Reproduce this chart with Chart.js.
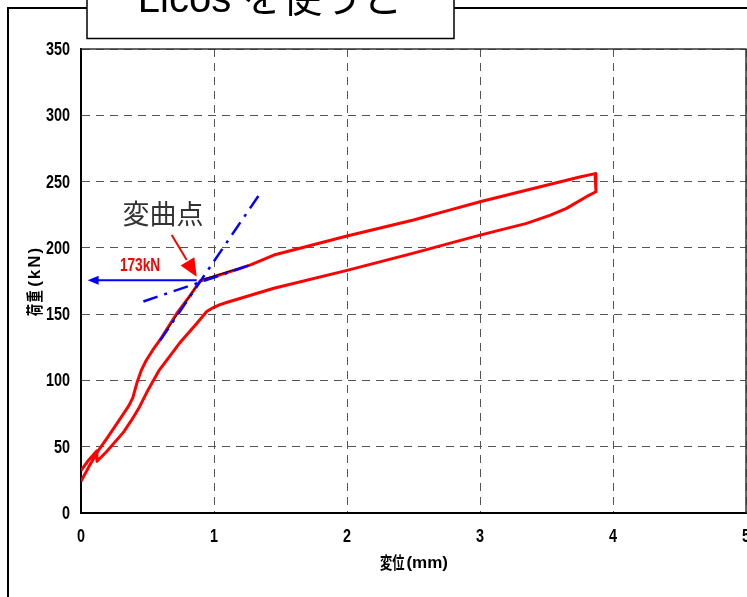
<!DOCTYPE html>
<html>
<head>
<meta charset="utf-8">
<script src="https://cdn.jsdelivr.net/npm/chart.js@4.4.0/dist/chart.umd.min.js"></script>
<style>
  html, body { margin: 0; padding: 0; background: #fff; overflow: hidden; }
  #wrap { position: relative; width: 770px; height: 597px; }
</style>
</head>
<body>
<div id="wrap"><canvas id="chart" width="770" height="597"></canvas></div>
<script>
// load - displacement loop (mm, kN)
const loopX = [0, 0.06, 0.13, 0.2, 0.3, 0.36, 0.39, 0.42, 0.455, 0.49, 0.54, 0.594, 0.72, 0.82, 0.895, 0.995, 1.27, 1.45, 2.0, 2.5, 2.77, 3.0, 3.4, 3.75, 3.865, 3.872, 3.872,
               3.8, 3.65, 3.53, 3.35, 3.0, 2.77, 2.5, 2.0, 1.45, 1.2, 1.1, 1.04, 0.995, 0.945, 0.87, 0.74, 0.59, 0.5, 0.44, 0.38, 0.32, 0.19, 0.12, 0.12, 0.05, 0];
const loopY = [24, 35, 47, 57, 72, 81, 87, 98, 108, 115, 123, 130.5, 150.5, 164, 175, 178, 187, 194.6, 209, 221, 228.5, 234.8, 244.8, 253.5, 256, 256, 242.3,
               238.6, 229.8, 224.7, 218.5, 209.6, 203.4, 196, 183, 169.5, 162, 159, 157, 155, 152, 143, 128, 108, 92, 80, 70, 61, 46, 39, 47, 39, 32];

// tangent lines (blue dash-dot)
const steepX = [0.594, 1.346];
const steepY = [130, 241];
const shallowX = [0.469, 1.27];
const shallowY = [159.5, 187];

// fitted segments (thin black)
const fitAX = [0.62, 0.89];
const fitAY = [134, 174.5];
const fitBX = [0.92, 1.27];
const fitBY = [176.5, 187];

// annotations
const inflectionLoad = 173;
const loadArrowX = [0.87, 0.05];
const loadArrowY = [175.5, 175.5];
const pointerX = [0.682, 0.87];
const pointerY = [209.7, 178.2];

const xTicks = [0, 1, 2, 3, 4, 5];
const yTicks = [0, 50, 100, 150, 200, 250, 300, 350];

const toPoints = (xs, ys) => xs.map((x, i) => ({ x: x, y: ys[i] }));

const latin = "'Liberation Sans', Arial, sans-serif";
const cjk = "'Noto Sans CJK JP', sans-serif";

function arrowHead(ctx, x1, y1, x2, y2, len, half, color) {
    const a = Math.atan2(y2 - y1, x2 - x1);
    ctx.save();
    ctx.fillStyle = color;
    ctx.translate(x2, y2);
    ctx.rotate(a);
    ctx.beginPath();
    ctx.moveTo(0, 0);
    ctx.lineTo(-len, -half);
    ctx.lineTo(-len, half);
    ctx.closePath();
    ctx.fill();
    ctx.restore();
}

// narrow text: squeeze horizontally around (x, y)
function narrowText(ctx, text, x, y, align, squeeze) {
    ctx.save();
    ctx.translate(x, y);
    ctx.scale(squeeze, 1);
    ctx.textAlign = align;
    ctx.fillText(text, 0, 0);
    ctx.restore();
}

// kanji squeezed + latin part, laid out along the current x direction, centred at 0
function axisTitle(ctx, kanji, latinPart, size) {
    ctx.font = 'bold ' + size + 'px ' + cjk;
    const kw = ctx.measureText(kanji).width * 0.72;
    ctx.font = 'bold ' + size + 'px ' + latin;
    const lw = ctx.measureText(latinPart).width;
    const start = -(kw + lw + 2) / 2;
    ctx.textAlign = 'left';
    ctx.textBaseline = 'middle';
    ctx.save();
    ctx.translate(start, 0);
    ctx.scale(0.72, 1);
    ctx.font = 'bold ' + size + 'px ' + cjk;
    ctx.fillText(kanji, 0, 0);
    ctx.restore();
    ctx.font = 'bold ' + size + 'px ' + latin;
    ctx.fillText(latinPart, start + kw + 2, 0);
}

const decorations = {
    id: 'decorations',
    afterDraw(chart) {
        const ctx = chart.ctx;
        const xs = chart.scales.x;
        const ys = chart.scales.y;
        const area = chart.chartArea;

        // plot box top / right
        ctx.save();
        ctx.strokeStyle = '#333';
        ctx.lineWidth = 1.5;
        ctx.beginPath();
        ctx.moveTo(area.left, area.top);
        ctx.lineTo(area.right, area.top);
        ctx.lineTo(area.right, area.bottom);
        ctx.stroke();
        ctx.restore();

        // tick labels
        ctx.save();
        ctx.fillStyle = '#000';
        ctx.font = 'bold 18px ' + latin;
        ctx.textBaseline = 'middle';
        yTicks.forEach(v => narrowText(ctx, String(v), area.left - 11, ys.getPixelForValue(v) + 1, 'right', 0.8));
        xTicks.forEach(v => narrowText(ctx, String(v), xs.getPixelForValue(v), area.bottom + 24, 'center', 0.8));
        ctx.restore();

        // horizontal arrow to the load axis
        const ax1 = xs.getPixelForValue(loadArrowX[0]);
        const ay1 = ys.getPixelForValue(loadArrowY[0]);
        const ax2 = xs.getPixelForValue(loadArrowX[1]);
        const ay2 = ys.getPixelForValue(loadArrowY[1]);
        ctx.save();
        ctx.strokeStyle = '#0000ff';
        ctx.lineWidth = 2;
        ctx.beginPath();
        ctx.moveTo(ax1, ay1);
        ctx.lineTo(ax2 + 8, ay2);
        ctx.stroke();
        ctx.restore();
        arrowHead(ctx, ax1, ay1, ax2, ay2, 11, 4.5, '#0000ff');

        // red pointer
        const px1 = xs.getPixelForValue(pointerX[0]);
        const py1 = ys.getPixelForValue(pointerY[0]);
        const px2 = xs.getPixelForValue(pointerX[1]);
        const py2 = ys.getPixelForValue(pointerY[1]);
        ctx.save();
        ctx.strokeStyle = '#ff0000';
        ctx.lineWidth = 2;
        ctx.beginPath();
        ctx.moveTo(px1, py1);
        ctx.lineTo(px1 + (px2 - px1) * 0.6, py1 + (py2 - py1) * 0.6);
        ctx.stroke();
        ctx.restore();
        arrowHead(ctx, px1, py1, px2, py2, 18, 8, '#ff0000');

        // labels
        ctx.save();
        ctx.textBaseline = 'middle';
        ctx.fillStyle = '#ff0000';
        ctx.font = 'bold 18px ' + latin;
        narrowText(ctx, inflectionLoad + 'kN', xs.getPixelForValue(0.444), ys.getPixelForValue(186.3), 'center', 0.76);
        ctx.fillStyle = '#333';
        ctx.font = '400 27px ' + cjk;
        ctx.textAlign = 'center';
        ctx.fillText('変曲点', xs.getPixelForValue(0.617), ys.getPixelForValue(226));
        ctx.restore();

        // axis titles
        ctx.save();
        ctx.fillStyle = '#000';
        ctx.translate(414, 563);
        axisTitle(ctx, '変位', '(mm)', 17);
        ctx.restore();

        ctx.save();
        ctx.fillStyle = '#000';
        ctx.translate(35, (area.top + area.bottom) / 2);
        ctx.rotate(-Math.PI / 2);
        ctx.letterSpacing = '2px';
        axisTitle(ctx, '荷重', '(kN)', 17);
        ctx.restore();

        // outer frame
        ctx.save();
        ctx.strokeStyle = '#000';
        ctx.lineWidth = 2;
        ctx.beginPath();
        ctx.moveTo(8, 600);
        ctx.lineTo(8, 8);
        ctx.lineTo(770, 8);
        ctx.stroke();

        // title box, cut off at the top
        ctx.fillStyle = '#fff';
        ctx.fillRect(87, -10, 367, 48.5);
        ctx.lineWidth = 1.5;
        ctx.strokeRect(87, -10, 367, 48.5);
        ctx.fillStyle = '#000';
        ctx.font = '40px ' + latin.replace(', sans-serif', '') + ', ' + cjk;
        ctx.textAlign = 'center';
        ctx.textBaseline = 'alphabetic';
        ctx.fillText('Licos を使うと', 270, 12);
        ctx.restore();
    }
};

new Chart(document.getElementById('chart'), {
    type: 'scatter',
    data: {
        datasets: [
            { data: toPoints(steepX, steepY), borderColor: '#0000ff', borderWidth: 2.5, borderDash: [15, 7, 3, 7], showLine: true, pointRadius: 0 },
            { data: toPoints(shallowX, shallowY), borderColor: '#0000ff', borderWidth: 2.5, borderDash: [15, 7, 3, 7], showLine: true, pointRadius: 0 },
            { data: toPoints(fitAX, fitAY), borderColor: '#000', borderWidth: 1, showLine: true, pointRadius: 0 },
            { data: toPoints(fitBX, fitBY), borderColor: '#000', borderWidth: 1, showLine: true, pointRadius: 0 },
            { data: toPoints(loopX, loopY), borderColor: '#ff0000', borderWidth: 3, showLine: true, pointRadius: 0, borderJoinStyle: 'round' }
        ]
    },
    options: {
        responsive: false,
        animation: false,
        devicePixelRatio: 1,
        layout: { padding: { top: 49, right: 24, bottom: 0, left: 0 } },
        plugins: { legend: { display: false }, tooltip: { enabled: false } },
        scales: {
            x: {
                type: 'linear',
                min: 0,
                max: 5,
                afterBuildTicks: s => { s.ticks = xTicks.map(v => ({ value: v })); },
                afterFit: s => { s.height = 84; s.paddingLeft = 0; s.paddingRight = 0; },
                ticks: { display: false },
                grid: { color: '#555', lineWidth: 1, drawTicks: false },
                border: { display: true, color: '#000', width: 2, dash: [8, 6] }
            },
            y: {
                type: 'linear',
                min: 0,
                max: 350,
                afterBuildTicks: s => { s.ticks = yTicks.map(v => ({ value: v })); },
                afterFit: s => { s.width = 81; s.paddingTop = 0; s.paddingBottom = 0; },
                ticks: { display: false },
                grid: { color: '#555', lineWidth: 1, drawTicks: false },
                border: { display: true, color: '#000', width: 2, dash: [8, 6] }
            }
        }
    },
    plugins: [decorations]
});
</script>
</body>
</html>
